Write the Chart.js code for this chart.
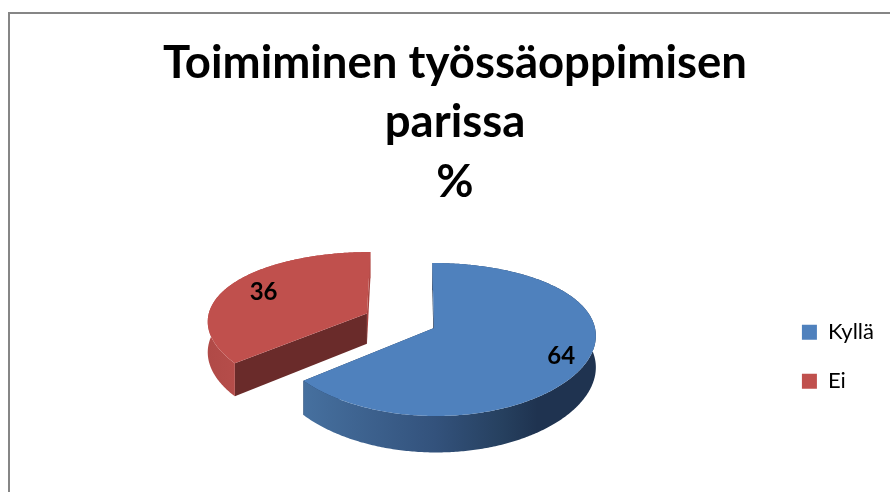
<!DOCTYPE html>
<html>
<head>
<meta charset="utf-8">
<title>Toimiminen työssäoppimisen parissa</title>
<script src="https://cdn.jsdelivr.net/npm/chart.js@4/dist/chart.umd.min.js"></script>
<style>
  html, body { margin: 0; height: 100%; background: #fff; overflow: hidden; }
  #frame { position: absolute; left: 8px; top: 12px; width: 1000px; height: 600px; border: 2px solid #868686; }
  #wrap { position: absolute; left: 0; top: 0; width: 890px; height: 492px; }
</style>
</head>
<body>
<div id="frame"></div>
<div id="wrap"><canvas id="chart"></canvas></div>
<script>
const categories = ['Kyllä', 'Ei'];
const values = [64, 36];
const titleLines = ['Toimiminen työssäoppimisen', 'parissa', '%'];

const topColors = ['#4f81bd', '#c0504d'];
const cutColors = ['#1f3350', '#6a2b2a'];
const edgeColors = ['#1f3350', '#a8433f'];
const wallStops = [
  [[0, '#46709f'], [0.45, '#33527c'], [0.68, '#26405f'], [0.8, '#1f3350'], [1, '#1f3350']],
  [[0, '#b04a47'], [1, '#b64d4a']],
];
const labelFractions = [0.84, 0.75];

// kameran arvot: 3D-vaikutelma lasketaan ympyrän pisteistä
const FONT = 'Lato, Carlito, "Noto Sans", sans-serif';
const camera = { cx: 434, cy: 328, tilt: 0.4646, persp: 0.15, xPersp: 0.6, shear: 0.012, depth: 31 };

function project(X, Y, R) {
  const s = 1 / (1 - camera.persp * Y / R);
  const sx = 1 + (s - 1) * camera.xPersp;
  return {
    x: camera.cx + X * sx + camera.shear * Y * s,
    y: camera.cy + camera.tilt * Y * s,
    s,
  };
}

// kulma Chart.js:n arc-elementiltä -> piste kuvassa
function arcPoint(angle, r, ox, oy, R) {
  return project(ox + Math.cos(angle) * r, oy + Math.sin(angle) * r, R);
}

function tracePoints(ctx, pts) {
  pts.forEach((p, i) => (i ? ctx.lineTo(p.x, p.y) : ctx.moveTo(p.x, p.y)));
  ctx.closePath();
}

function lowered(p) {
  return { x: p.x, y: p.y + camera.depth * p.s };
}

const pie3d = {
  id: 'pie3d',
  beforeDatasetDraw(chart, args) {
    const ctx = chart.ctx;
    const arcs = args.meta.data;
    // takimmainen (punainen) ensin
    for (let i = arcs.length - 1; i >= 0; i--) {
      const { startAngle, endAngle, outerRadius: R } = arcs[i].getProps(['startAngle', 'endAngle', 'outerRadius'], true);
      const offset = arcs[i].options.offset;
      const mid = (startAngle + endAngle) / 2;
      const ox = Math.cos(mid) * offset;
      const oy = Math.sin(mid) * offset;

      const rim = [];
      const steps = Math.ceil((endAngle - startAngle) * 90);
      for (let k = 0; k <= steps; k++) {
        rim.push(arcPoint(startAngle + (endAngle - startAngle) * k / steps, R, ox, oy, R));
      }
      const apex = project(ox, oy, R);
      const first = rim[0];
      const last = rim[rim.length - 1];

      // leikkauspinnat
      ctx.fillStyle = cutColors[i];
      ctx.beginPath();
      tracePoints(ctx, [apex, first, lowered(first), lowered(apex)]);
      ctx.fill();
      ctx.fillStyle = edgeColors[i];
      ctx.beginPath();
      tracePoints(ctx, [apex, last, lowered(last), lowered(apex)]);
      ctx.fill();

      // ulkoseinä
      const xs = rim.map((p) => p.x);
      const minX = Math.min(...xs);
      const maxX = Math.max(...xs);
      const wallGrad = ctx.createLinearGradient(minX, 0, i === 1 ? minX + 30 : maxX, 0);
      wallStops[i].forEach(([pos, col]) => wallGrad.addColorStop(pos, col));
      ctx.fillStyle = wallGrad;
      ctx.beginPath();
      tracePoints(ctx, rim.concat(rim.map(lowered).reverse()));
      ctx.fill();

      // yläpinta
      ctx.fillStyle = topColors[i];
      ctx.beginPath();
      tracePoints(ctx, [apex].concat(rim));
      ctx.fill();
    }

    // arvot
    ctx.fillStyle = '#000';
    ctx.font = 'bold 24px ' + FONT;
    ctx.textAlign = 'center';
    ctx.textBaseline = 'middle';
    arcs.forEach((arc, i) => {
      const { startAngle, endAngle, outerRadius: R } = arc.getProps(['startAngle', 'endAngle', 'outerRadius'], true);
      const mid = (startAngle + endAngle) / 2;
      const offset = arc.options.offset;
      const p = arcPoint(mid, R * labelFractions[i], Math.cos(mid) * offset, Math.sin(mid) * offset, R);
      ctx.fillText(String(values[i]), p.x, p.y);
    });
    return false;
  },
};

new Chart(document.getElementById('chart'), {
  type: 'pie',
  data: {
    labels: categories,
    datasets: [{
      data: values,
      backgroundColor: topColors,
      borderWidth: 0,
      radius: 161,
      offset: [0, 75],
    }],
  },
  options: {
    responsive: true,
    maintainAspectRatio: false,
    animation: false,
    layout: { padding: { left: 26, right: 6, top: 0, bottom: 0 } },
    plugins: {
      tooltip: { enabled: false },
      title: {
        display: true,
        text: titleLines,
        color: '#000',
        font: { family: FONT, size: 45.5, weight: 'bold', lineHeight: 1.3 },
        padding: { top: 34, bottom: 10 },
      },
      legend: {
        position: 'right',
        fullSize: false,
        labels: {
          boxWidth: 15,
          boxHeight: 15,
          padding: 27,
          color: '#000',
          font: { family: FONT, size: 22 },
        },
      },
    },
  },
  plugins: [pie3d],
});
</script>
</body>
</html>
